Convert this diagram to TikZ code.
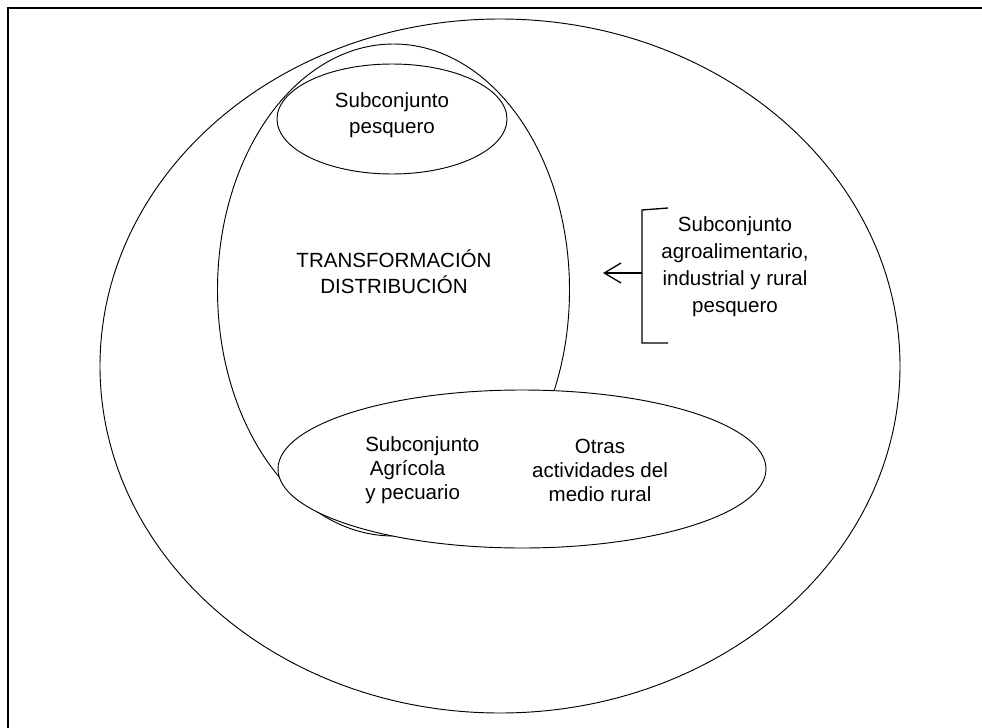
\documentclass[tikz,border=0pt]{standalone}
\usepackage{fontspec}
\setmainfont{Liberation Sans}
\usetikzlibrary{shapes.geometric,arrows.meta}
\begin{document}
\begin{tikzpicture}[x=0.75pt,y=-0.75pt,
  oval/.style={draw,ellipse,inner sep=0pt,line width=0.7pt},
  label/.style={inner sep=0pt,font=\fontsize{15.4pt}{19.5pt}\selectfont},
  bracketline/.style={line width=1pt},
]
\useasboundingbox (0,0) rectangle (982,728);
% cut frame
\draw[line width=1.6pt] (8,728) -- (8,8) -- (982,8);

% nested sets
\node[oval,minimum width=600pt,minimum height=520.5pt] (outer) at (500,366) {};
\node[oval,minimum width=264pt,minimum height=369pt] (proc) at (393.5,290) {};
\node[oval,minimum width=172.5pt,minimum height=82.5pt] (fish) at (392,119) {};
% the rural set is opaque and hides the lower part of the processing set
\node[oval,fill=white,minimum width=366pt,minimum height=118.5pt] (rural) at (522,469) {};

% labels
\node[label,align=center] (fishtxt) at (392,115) {Subconjunto\\pesquero};
\node[label,align=center] (proctxt) at (394,272) {TRANSFORMACIÓN\\DISTRIBUCIÓN};
\node[label,align=center,font=\fontsize{15.4pt}{20.25pt}\selectfont] (agrotxt) at (735,267)
  {Subconjunto\\agroalimentario,\\industrial y rural\\pesquero};
\node[label,align=left,anchor=west,font=\fontsize{15.4pt}{18pt}\selectfont] (agritxt) at (365,470)
  {Subconjunto\\\hspace*{3.5pt}Agrícola\\y pecuario};
\node[label,align=center,font=\fontsize{15.4pt}{18pt}\selectfont] (othertxt) at (600,470)
  {Otras\\actividades del\\medio rural};

% bracket with arrow
\coordinate (bt) at (668,208);
\coordinate (btl) at (642,210);
\coordinate (bbl) at (642,343);
\coordinate (bb) at (668,343);
\coordinate (bm) at (642,273);
\coordinate (tip) at (603,273);
\draw[bracketline] (bt) -- (btl) -- (bbl) -- (bb);
\draw[bracketline,-{Straight Barb[length=12.5pt,width=15pt]}] (bm) -- (tip);
\end{tikzpicture}
\end{document}
